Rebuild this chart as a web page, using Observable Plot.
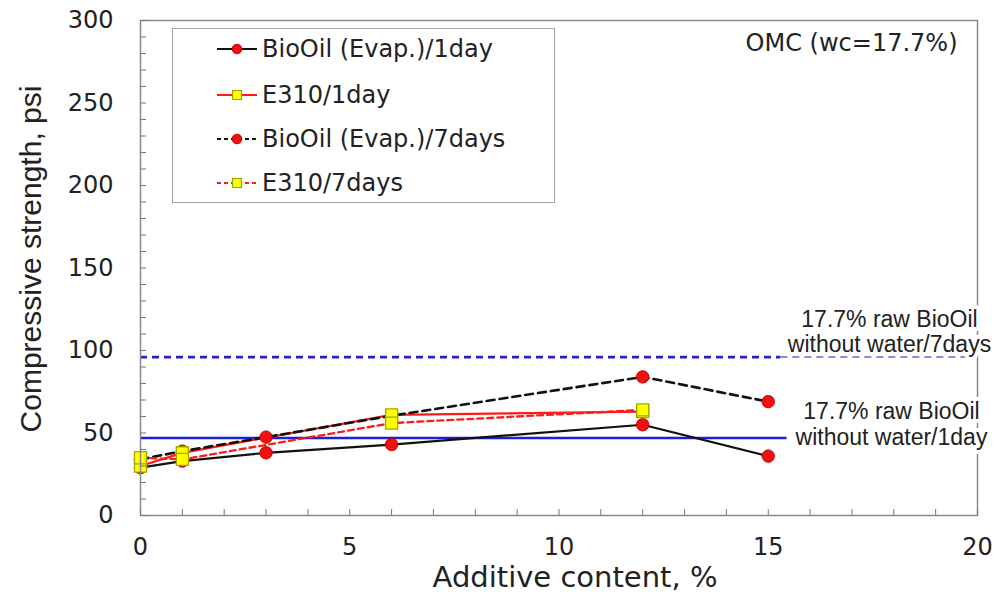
<!DOCTYPE html>
<html>
<head>
<meta charset="utf-8">
<script src="https://cdn.jsdelivr.net/npm/d3@7"></script>
<script src="https://cdn.jsdelivr.net/npm/@observablehq/plot@0.6"></script>
<style>
  body { margin: 0; background: #fff; }
  #wrap { position: relative; width: 1000px; height: 597px; overflow: hidden; }
  #legend { position: absolute; left: 172px; top: 28px; width: 381px; height: 173px;
            border: 1.5px solid #a3a3a3; background: #fff; font-family: "DejaVu Sans", sans-serif;
            font-size: 24px; color: #222; }
  .item { position: absolute; left: 42px; height: 30px; display: flex; align-items: center; white-space: nowrap; }
  .item svg { display: block; margin-right: 3px; }
</style>
</head>
<body>
<div id="wrap"><div id="legend"></div></div>
<script>
// ---- data ----
const seriesNames = ["BioOil (Evap.)/1day", "E310/1day", "BioOil (Evap.)/7days", "E310/7days"];
const xBioOil = [0, 1, 3, 6, 12, 15];
const bioOil1day = [29, 33, 38, 43, 55, 36];
const bioOil7days = [34, 39, 47.5, 60.5, 84, 69];
const xE310 = [0, 1, 6, 12];
const e310_1day = [30, 38, 61, 63];
const e310_7days = [35, 34, 56, 64];
const refLabels = ["17.7% raw BioOil\nwithout water/1day", "17.7% raw BioOil\nwithout water/7days"];
const refValues = [47, 96];
const refEnds = [15.45, 20];
const xTicks = [0, 5, 10, 15, 20];
const yTicks = [0, 50, 100, 150, 200, 250, 300];
const xMinor = d3.range(0, 21, 1);
const yMinor = d3.range(0, 301, 10);
const cornerNote = "OMC (wc=17.7%)";
const xTitle = "Additive content, %";
const yTitle = "Compressive strength, psi";

// ---- styles ----
const styles = {
  "BioOil (Evap.)/1day": {stroke: "#111", dash: null, width: 2.2, symbol: "circle"},
  "E310/1day": {stroke: "#ff1a1a", dash: null, width: 2.3, symbol: "square"},
  "BioOil (Evap.)/7days": {stroke: "#111", dash: "8,5", width: 2.6, symbol: "circle"},
  "E310/7days": {stroke: "#ff1a1a", dash: "6,4", width: 2.3, symbol: "square"}
};

const seriesData = {
  "BioOil (Evap.)/1day": xBioOil.map((x, i) => ({x, y: bioOil1day[i]})),
  "E310/1day": xE310.map((x, i) => ({x, y: e310_1day[i]})),
  "BioOil (Evap.)/7days": xBioOil.map((x, i) => ({x, y: bioOil7days[i]})),
  "E310/7days": xE310.map((x, i) => ({x, y: e310_7days[i]}))
};

const refRows = refValues.map((v, i) => ({label: refLabels[i], y: v, xEnd: refEnds[i]}));

const lineMarks = seriesNames.map(name => Plot.line(seriesData[name], {
  x: "x", y: "y", stroke: styles[name].stroke, strokeWidth: styles[name].width,
  strokeDasharray: styles[name].dash
}));

const circleRows = seriesNames.filter(n => styles[n].symbol === "circle").flatMap(n => seriesData[n]);
const squareRows = seriesNames.filter(n => styles[n].symbol === "square").flatMap(n => seriesData[n]);

const annotationStyle = {
  textAnchor: "middle", lineHeight: 1.1,
  fontFamily: "Liberation Sans", fontSize: 23, fill: "#222",
  stroke: "white", strokeWidth: 8, paintOrder: "stroke"
};

const chart = Plot.plot({
  width: 1000,
  height: 597,
  marginLeft: 140,
  marginRight: 23,
  marginTop: 20,
  marginBottom: 82,
  style: {fontFamily: "DejaVu Sans", fontSize: "24px", color: "#222", background: "#fff"},
  x: {domain: [0, 20]},
  y: {domain: [0, 300]},
  marks: [
    // reference lines
    Plot.ruleY([refRows[0]], {y: "y", x1: 0, x2: "xEnd", stroke: "#1f1fd6", strokeWidth: 2.4}),
    Plot.ruleY([refRows[1]], {y: "y", x1: 0, x2: 15.3, stroke: "#2323c8", strokeWidth: 2.6, strokeDasharray: "7,5"}),
    Plot.ruleY([refRows[1]], {y: "y", x1: 15.3, x2: "xEnd", stroke: "#8d8de0", strokeWidth: 2, strokeDasharray: "7,5"}),
    ...lineMarks,
    Plot.dot(circleRows, {x: "x", y: "y", r: 6.2, fill: "#ee1111", stroke: "#c80000", strokeWidth: 1}),
    Plot.dot(squareRows, {x: "x", y: "y", symbol: "square", r: 6.8, fill: "#ffff00", stroke: "#a5a500", strokeWidth: 1.3}),
    // frame and axes
    Plot.frame({stroke: "#8a8a8a", strokeWidth: 1.5}),
    Plot.axisY({ticks: yMinor, tickSize: -6, tickFormat: () => "", label: null, stroke: "#777"}),
    Plot.axisX({ticks: xMinor, tickSize: -6, tickFormat: () => "", label: null, stroke: "#777"}),
    Plot.axisY({ticks: yTicks, tickSize: 0, tickPadding: 27, label: null, fontSize: 24}),
    Plot.axisX({ticks: xTicks, tickSize: 0, tickPadding: 22, label: null, fontSize: 24}),
    // annotations
    Plot.text([refRows[1]], {
      y: "y", text: "label", frameAnchor: "right", dx: -88, dy: -5,
      lineAnchor: "bottom", ...annotationStyle
    }),
    Plot.text([refRows[0]], {
      y: "y", text: "label", frameAnchor: "right", dx: -86, dy: -14,
      lineAnchor: "middle", ...annotationStyle
    }),
    Plot.text([cornerNote], {
      frameAnchor: "top-right", dx: -20, dy: 13, textAnchor: "end", lineAnchor: "top",
      fontFamily: "DejaVu Sans", fontSize: 24, fill: "#222"
    }),
    Plot.text([xTitle], {
      frameAnchor: "bottom", dx: 16, dy: 62, textAnchor: "middle", lineAnchor: "middle",
      fontFamily: "DejaVu Sans", fontSize: 29, fill: "#222"
    }),
    Plot.text([yTitle], {
      frameAnchor: "left", dx: -109, dy: -9, rotate: -90, textAnchor: "middle", lineAnchor: "middle",
      fontFamily: "Liberation Sans", fontSize: 30, fill: "#222"
    })
  ]
});

const wrap = document.getElementById("wrap");
wrap.insertBefore(chart, wrap.firstChild);

// ---- legend ----
const legend = d3.select("#legend");
const itemTops = [5, 51, 95, 139];
seriesNames.forEach((name, i) => {
  const st = styles[name];
  const item = legend.append("div").attr("class", "item").style("top", itemTops[i] + "px");
  const svg = item.append("svg").attr("width", 44).attr("height", 20);
  svg.append("line").attr("x1", 2).attr("x2", 42).attr("y1", 10).attr("y2", 10)
    .attr("stroke", st.stroke).attr("stroke-width", 2)
    .attr("stroke-dasharray", st.dash ? "4,3" : null);
  if (st.symbol === "circle") {
    svg.append("circle").attr("cx", 22).attr("cy", 10).attr("r", 4.8)
      .attr("fill", "#ee1111").attr("stroke", "#c80000");
  } else {
    svg.append("rect").attr("x", 17.5).attr("y", 5.5).attr("width", 9).attr("height", 9)
      .attr("fill", "#ffff00").attr("stroke", "#a5a500").attr("stroke-width", 1.2);
  }
  item.append("span").text(name);
});
</script>
</body>
</html>
